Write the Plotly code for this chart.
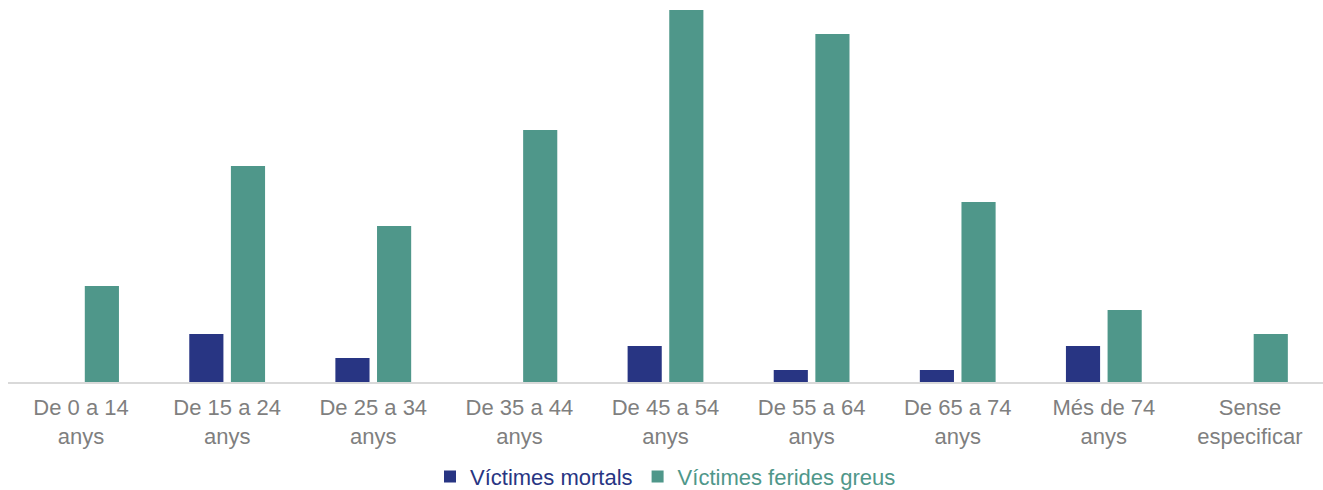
import plotly.graph_objects as go

categories = ["De 0 a 14<br>anys", "De 15 a 24<br>anys", "De 25 a 34<br>anys", "De 35 a 44<br>anys",
              "De 45 a 54<br>anys", "De 55 a 64<br>anys", "De 65 a 74<br>anys", "Més de 74<br>anys",
              "Sense<br>especificar"]
mortals = [0, 4, 2, 0, 3, 1, 1, 3, 0]
ferits = [8, 18, 13, 21, 31, 29, 15, 6, 4]

blue = "#283583"
green = "#4f978a"

fig = go.Figure()
fig.add_trace(go.Bar(x=categories, y=mortals, marker_color=blue, marker_line_width=0,
                     name=f"<span style='color:{blue}'>Víctimes mortals</span>"))
fig.add_trace(go.Bar(x=categories, y=ferits, marker_color=green, marker_line_width=0,
                     name=f"<span style='color:{green}'>Víctimes ferides greus</span>"))

fig.update_layout(
    width=1323, height=490,
    margin=dict(l=8, r=0, t=10, b=108, autoexpand=False),
    plot_bgcolor="white", paper_bgcolor="white",
    barmode="group", bargap=0.43, bargroupgap=0.18,
    font=dict(family="Liberation Sans, Arial, sans-serif", size=22, color="#7f7f7f"),
    showlegend=True,
    legend=dict(orientation="h", x=0.5, xanchor="center", yref="container", y=0.027, yanchor="middle",
                font=dict(size=22), itemwidth=30, tracegroupgap=0),
    xaxis=dict(showline=True, linecolor="#d9d9d9", linewidth=2, ticks="", showgrid=False,
               automargin=False, ticklabelstandoff=5,
               tickfont=dict(size=22, color="#7f7f7f")),
    yaxis=dict(range=[0, 31], showticklabels=False, showgrid=False, zeroline=False, showline=False,
               automargin=False),
)

fig.write_html("out.html")
